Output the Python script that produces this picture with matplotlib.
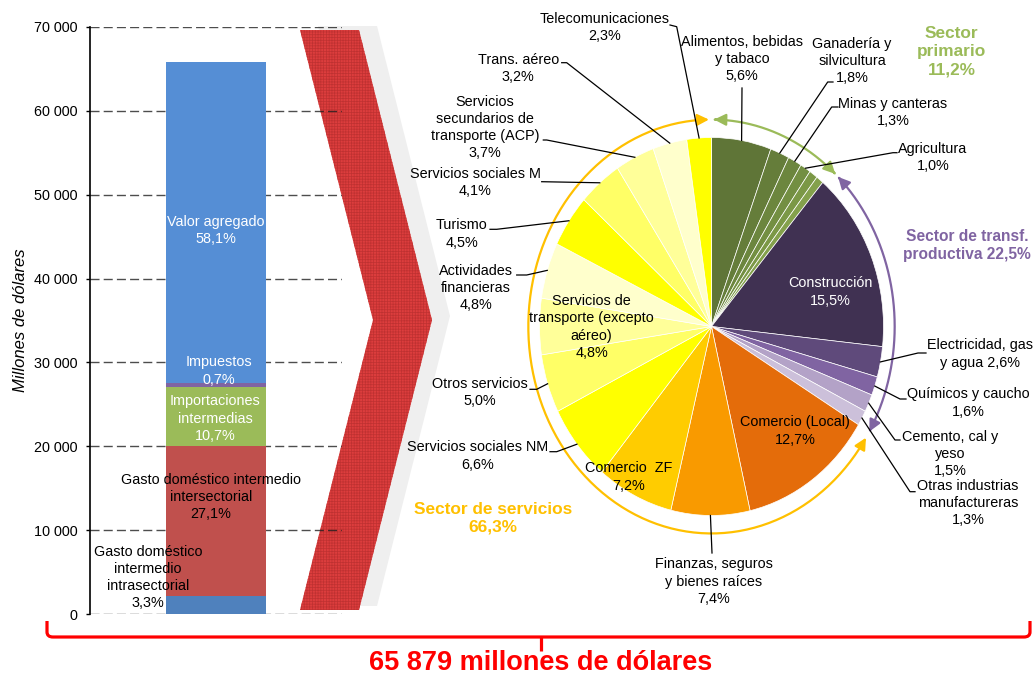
import matplotlib
matplotlib.use("Agg")
import matplotlib.pyplot as plt
import numpy as np
from matplotlib.patches import Polygon, FancyArrowPatch, PathPatch
from matplotlib.path import Path
from matplotlib.ticker import FuncFormatter

plt.rcParams['font.family'] = ['Liberation Sans', 'DejaVu Sans']
plt.rcParams['hatch.linewidth'] = 0.5

# ---------------- data ----------------
total_musd = 65879

bar_names = ["Gasto doméstico\nintermedio\nintrasectorial",
             "Gasto doméstico intermedio\nintersectorial",
             "Importaciones\nintermedias",
             "Impuestos",
             "Valor agregado"]
bar_pct = [3.3, 27.1, 10.7, 0.7, 58.1]
bar_colors = ["#4F81BD", "#C0504D", "#9BBB59", "#8064A2", "#558ED5"]
bar_text_colors = ["black", "black", "white", "white", "white"]
y_ticks = [0, 10000, 20000, 30000, 40000, 50000, 60000, 70000]

pie_names = ["Alimentos, bebidas\ny tabaco", "Ganadería y\nsilvicultura", "Minas y canteras",
             "Agricultura", "", "",
             "Construcción", "Electricidad, gas\ny agua", "Químicos y caucho",
             "Cemento, cal y\nyeso", "Otras industrias\nmanufactureras",
             "Comercio (Local)", "Finanzas, seguros\ny bienes raíces", "Comercio  ZF",
             "Servicios sociales NM", "Otros servicios",
             "Servicios de\ntransporte (excepto\naéreo)", "Actividades\nfinancieras",
             "Turismo", "Servicios sociales M",
             "Servicios\nsecundarios de\ntransporte (ACP)", "Trans. aéreo",
             "Telecomunicaciones"]
pie_pct = [5.6, 1.8, 1.3, 1.0, 0.8, 0.7,
           15.5, 2.6, 1.6, 1.5, 1.3,
           12.7, 7.4, 7.2, 6.6, 5.0, 4.8, 4.8, 4.5, 4.1, 3.7, 3.2, 2.3]
pie_colors = ["#5F7537", "#657D3A", "#6C863E", "#738F42", "#7B9846", "#84A14C",
              "#403152", "#5F4A7B", "#8064A2", "#B3A2C7", "#CCC0DA",
              "#E46C0A", "#F99A00", "#FFCC00", "#FFFF00", "#FFFF66", "#FFFF99",
              "#FFFFCC", "#FFFF00", "#FFFF66", "#FFFF99", "#FFFFCC", "#FFFF00"]

sector_names = ["Sector\nprimario", "Sector de transf.\nproductiva", "Sector de servicios"]
sector_pct = [11.2, 22.5, 66.3]
sector_colors = ["#9BBB59", "#8064A2", "#FFC000"]


def fmt(p):
    return f"{p:.1f}%".replace(".", ",")


# ---------------- layout ----------------
W, H = 1034, 677
FS = 10.4
fig = plt.figure(figsize=(W / 100, H / 100), dpi=100)

# overlay axes in pixel coordinates (decorations)
ov = fig.add_axes([0, 0, 1, 1], zorder=0)
ov.set_xlim(0, W)
ov.set_ylim(H, 0)
ov.axis('off')

chev = np.array([(300, 30), (359, 30), (432, 320), (359, 610), (300, 610), (373, 320)])
ov.add_patch(Polygon(chev + np.array([18, -4]), closed=True, facecolor="#EFEFEF",
                     edgecolor="none"))
ov.add_patch(Polygon(chev, closed=True, facecolor="#DC3D3D", edgecolor="#BF3131",
                     linewidth=0, hatch="++++++"))

# red bracket
bverts = [(47, 621), (47, 632), (47, 637), (53, 637), (1024, 637), (1030, 637),
          (1030, 632), (1030, 621)]
bcodes = [Path.MOVETO, Path.LINETO, Path.CURVE3, Path.CURVE3, Path.LINETO,
          Path.CURVE3, Path.CURVE3, Path.LINETO]
ov.add_patch(PathPatch(Path(bverts, bcodes), facecolor="none", edgecolor="#FF0000",
                       lw=2.3, capstyle='butt', joinstyle='round'))
ov.plot([541, 541], [637, 651], color="#FF0000", lw=2.3, solid_capstyle='butt')
ov.text(541, 663, f"{total_musd:,}".replace(",", " ") + " millones de dólares",
        ha='center', va='center', color="#FF0000", fontsize=19.5, fontweight='bold')

# ---------------- bar chart ----------------
bax = fig.add_axes([90 / W, (H - 614) / H, 252 / W, 587 / H], zorder=1)
bax.patch.set_visible(False)
bax.set_xlim(0, 1)
bax.set_ylim(0, 70000)
bottom = 0.0
for pct, col in zip(bar_pct, bar_colors):
    h = pct / 100 * total_musd
    bax.bar(0.5, h, width=0.4, bottom=bottom, color=col, zorder=2)
    bottom += h

bar_text_pos = [(0.23, 4350), (0.48, 13950), (0.496, 23300), (0.512, 28980), (0.5, 45700)]
for name, pct, tc, (tx, ty) in zip(bar_names, bar_pct, bar_text_colors, bar_text_pos):
    bax.text(tx, ty, name + "\n" + fmt(pct), ha='center', va='center', color=tc,
             fontsize=FS, linespacing=1.3, zorder=5)

bax.set_yticks(y_ticks)
bax.yaxis.set_major_formatter(FuncFormatter(lambda v, p: f"{int(v):,}".replace(",", " ")))
bax.set_xticks([])
for s in ['top', 'right', 'bottom']:
    bax.spines[s].set_visible(False)
bax.spines['left'].set_linewidth(1.2)
bax.tick_params(axis='y', length=3, width=1, labelsize=FS, pad=6)
bax.yaxis.grid(True, linestyle=(0, (6.5, 3)), color="#202020", alpha=0.8, lw=1.0)
bax.set_axisbelow(True)
bax.set_ylabel("Millones de dólares", fontsize=12, fontstyle='italic', labelpad=4)

# ---------------- pie chart ----------------
CX, CY, RX, RY = 711.5, 326.5, 172.0, 189.0


def P(x, y):
    return ((x - CX) / RX, (CY - y) / RY)


pax = fig.add_axes([0, 0, 1, 1], zorder=3)
pax.patch.set_visible(False)
wedges, _ = pax.pie(pie_pct, colors=pie_colors, startangle=90, counterclock=False,
                    radius=1, center=(0, 0),
                    wedgeprops=dict(edgecolor='white', linewidth=0.5))
pax.set_aspect('auto')
pax.set_xlim(-CX / RX, (W - CX) / RX)
pax.set_ylim((CY - H) / RY, CY / RY)
pax.axis('off')

# outside labels: index -> (text x, text y, leader points after pie edge)
out_labels = {
    0: (742, 59, [(742, 88)]),
    1: (852, 61, [(827.7, 82), (833, 82)]),
    2: (893, 112.5, [(831.7, 107), (838, 107)]),
    3: (933, 157.5, [(893, 152.7), (897, 152.7)]),
    7: (980, 354, [(918, 353), (926, 353)]),
    8: (968, 403, [(900, 399), (906, 399)]),
    9: (950, 454, [(895, 440), (900, 440)]),
    10: (968, 503, [(910, 491.7), (915, 491.7)]),
    12: (714, 581.5, [(712, 553)]),
    14: (478, 456, [(556.7, 451.7), (550, 451.7)]),
    15: (480, 392.5, [(536.7, 389.3), (530, 389.3)]),
    17: (476, 288, [(526.7, 275), (516.7, 275)]),
    18: (461.7, 234, [(496.7, 229.3), (490, 229.3)]),
    19: (475, 182.5, [(541.7, 181.7)]),
    20: (485, 127.5, [(546.7, 140), (543.3, 140)]),
    21: (518.3, 68.8, [(566.7, 62.7), (561.7, 62.7)]),
    22: (605, 27.5, [(676.7, 26.7), (670, 25)]),
}
seps = {7: " "}
for i, (tx, ty, pts) in out_labels.items():
    w = wedges[i]
    mid = np.deg2rad((w.theta1 + w.theta2) / 2)
    xs = [np.cos(mid)] + [P(*p)[0] for p in pts]
    ys = [np.sin(mid)] + [P(*p)[1] for p in pts]
    pax.plot(xs, ys, color='black', lw=0.9, zorder=6)
    txt = pie_names[i] + seps.get(i, "\n") + fmt(pie_pct[i])
    pax.text(*P(tx, ty), txt, ha='center', va='center', fontsize=FS,
             linespacing=1.3, zorder=7)

in_labels = {6: (830, 292, 'white'), 11: (795, 431, 'black'),
             13: (629, 477, 'black'), 16: (591.7, 327, 'black')}
for i, (tx, ty, c) in in_labels.items():
    pax.text(*P(tx, ty), pie_names[i] + "\n" + fmt(pie_pct[i]), ha='center',
             va='center', fontsize=FS, color=c, linespacing=1.3, zorder=7)

# sector arcs
ARX, ARY = 1.065, 1.095


def arc(t0, t1, color):
    th = np.deg2rad(np.linspace(t0, t1, 200))
    verts = np.column_stack([ARX * np.cos(th), ARY * np.sin(th)])
    pax.add_patch(FancyArrowPatch(path=Path(verts),
                                  arrowstyle='<|-|>,head_length=0.5,head_width=0.25',
                                  mutation_scale=14, color=color, lw=1.6,
                                  shrinkA=0, shrinkB=0, zorder=5))


arc(89.2, 47.5, sector_colors[0])
arc(46.3, -30.5, sector_colors[1])
arc(90.8, 327.5, sector_colors[2])

sector_pos = [(951.7, 51.7, 'center', 12.4), (1031, 245.3, 'right', 11.2),
              (492.7, 518.3, 'center', 12.4)]
sector_seps = ["\n", " ", "\n"]
for name, pct, col, (tx, ty, ha, fs), sp in zip(sector_names, sector_pct, sector_colors,
                                                sector_pos, sector_seps):
    pax.text(*P(tx, ty), name + sp + fmt(pct), ha=ha, va='center', color=col,
             multialignment='center', fontsize=fs, fontweight='bold',
             linespacing=1.25, zorder=7)

fig.savefig("out.png", dpi=100)
